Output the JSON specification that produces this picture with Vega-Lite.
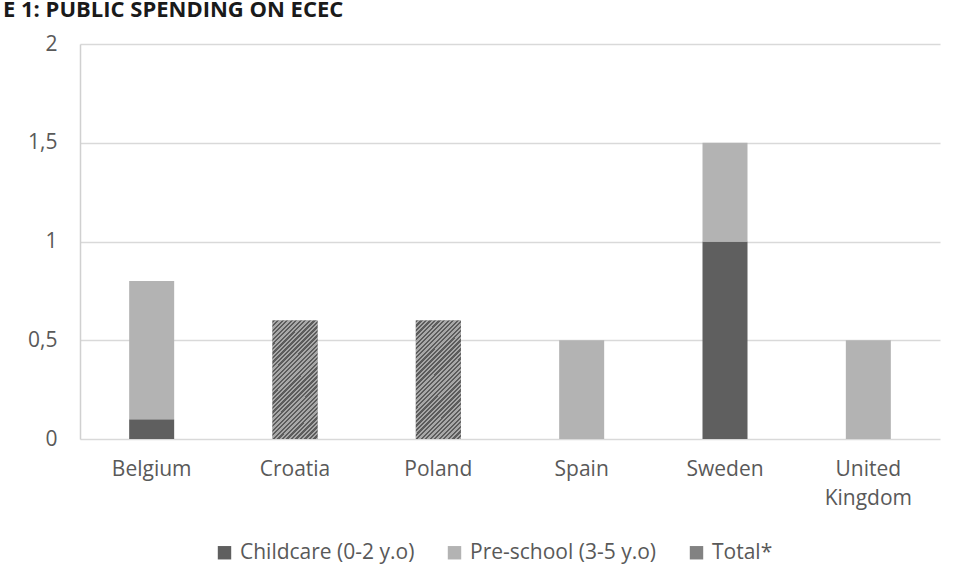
{
  "$schema": "https://vega.github.io/schema/vega-lite/v6.json",
  "width": 860,
  "height": 395,
  "autosize": {"type": "none"},
  "padding": {"left": 80, "top": 44, "right": 15, "bottom": 144},
  "background": "white",
  "title": {
    "text": "E 1: PUBLIC SPENDING ON ECEC",
    "anchor": "start",
    "frame": "group",
    "dx": -77,
    "dy": 6,
    "offset": 0,
    "baseline": "alphabetic",
    "font": "Open Sans",
    "fontSize": 22,
    "fontWeight": "bold",
    "color": "#1a1a1a"
  },
  "data": {
    "values": [
      {"country": "Belgium", "type": "Childcare (0-2 y.o)", "value": 0.1},
      {"country": "Belgium", "type": "Pre-school (3-5 y.o)", "value": 0.7},
      {"country": "Croatia", "type": "Total*", "value": 0.6},
      {"country": "Poland", "type": "Total*", "value": 0.6},
      {"country": "Spain", "type": "Pre-school (3-5 y.o)", "value": 0.5},
      {"country": "Sweden", "type": "Childcare (0-2 y.o)", "value": 1.0},
      {"country": "Sweden", "type": "Pre-school (3-5 y.o)", "value": 0.5},
      {"country": "United Kingdom", "type": "Pre-school (3-5 y.o)", "value": 0.5}
    ]
  },
  "encoding": {
    "x": {
      "field": "country",
      "type": "nominal",
      "sort": ["Belgium", "Croatia", "Poland", "Spain", "Sweden", "United Kingdom"],
      "scale": {"paddingInner": 0.686, "paddingOuter": 0.343},
      "axis": {
        "title": null,
        "labelAngle": 0,
        "ticks": false,
        "domain": false,
        "labelPadding": 19,
        "labelFont": "Open Sans",
        "labelFontSize": 21,
        "labelColor": "#595959",
        "labelLineHeight": 29,
        "labelExpr": "datum.label == 'United Kingdom' ? ['United', 'Kingdom'] : datum.label"
      }
    },
    "y": {
      "field": "value",
      "type": "quantitative",
      "stack": "zero",
      "scale": {"domain": [0, 2], "nice": false},
      "axis": {
        "title": null,
        "values": [0, 0.5, 1, 1.5, 2],
        "format": "~g",
        "ticks": false,
        "domain": true,
        "domainColor": "#d0d0d0",
        "domainWidth": 1.5,
        "grid": true,
        "gridColor": "#d9d9d9",
        "gridWidth": 1.5,
        "labelPadding": 23,
        "labelFont": "Open Sans",
        "labelFontSize": 21,
        "labelColor": "#595959",
        "labelExpr": "replace(datum.label, '.', ',')"
      }
    },
    "order": {"field": "type", "sort": "ascending"}
  },
  "layer": [
    {
      "mark": {"type": "bar"},
      "encoding": {
        "color": {
          "field": "type",
          "type": "nominal",
          "scale": {
            "domain": ["Childcare (0-2 y.o)", "Pre-school (3-5 y.o)", "Total*"],
            "range": ["#5f5f5f", "#b3b3b3", "#828282"]
          },
          "legend": {
            "title": null,
            "orient": "none",
            "direction": "horizontal",
            "legendX": 134,
            "legendY": 498,
            "symbolType": "square",
            "symbolSize": 180,
            "symbolStrokeWidth": 0,
            "symbolOpacity": 1,
            "labelFont": "Open Sans",
            "labelFontSize": 21,
            "labelColor": "#595959",
            "labelOffset": 5,
            "columnPadding": 29,
            "labelLimit": 300
          }
        }
      }
    },
    {
      "transform": [{"filter": "datum.type == 'Total*'"}],
      "mark": {
        "type": "bar",
        "color": {
          "gradient": "linear",
          "x1": 0, "y1": 0, "x2": 0.46, "y2": 1.206,
          "stops": [
            {"offset": 0, "color": "#5c5c5c"}, {"offset": 0.0139, "color": "#5c5c5c"}, {"offset": 0.0139, "color": "#a8a8a8"}, {"offset": 0.0278, "color": "#a8a8a8"},
            {"offset": 0.0278, "color": "#5c5c5c"}, {"offset": 0.0417, "color": "#5c5c5c"}, {"offset": 0.0417, "color": "#a8a8a8"}, {"offset": 0.0556, "color": "#a8a8a8"},
            {"offset": 0.0556, "color": "#5c5c5c"}, {"offset": 0.0694, "color": "#5c5c5c"}, {"offset": 0.0694, "color": "#a8a8a8"}, {"offset": 0.0833, "color": "#a8a8a8"},
            {"offset": 0.0833, "color": "#5c5c5c"}, {"offset": 0.0972, "color": "#5c5c5c"}, {"offset": 0.0972, "color": "#a8a8a8"}, {"offset": 0.1111, "color": "#a8a8a8"},
            {"offset": 0.1111, "color": "#5c5c5c"}, {"offset": 0.125, "color": "#5c5c5c"}, {"offset": 0.125, "color": "#a8a8a8"}, {"offset": 0.1389, "color": "#a8a8a8"},
            {"offset": 0.1389, "color": "#5c5c5c"}, {"offset": 0.1528, "color": "#5c5c5c"}, {"offset": 0.1528, "color": "#a8a8a8"}, {"offset": 0.1667, "color": "#a8a8a8"},
            {"offset": 0.1667, "color": "#5c5c5c"}, {"offset": 0.1806, "color": "#5c5c5c"}, {"offset": 0.1806, "color": "#a8a8a8"}, {"offset": 0.1944, "color": "#a8a8a8"},
            {"offset": 0.1944, "color": "#5c5c5c"}, {"offset": 0.2083, "color": "#5c5c5c"}, {"offset": 0.2083, "color": "#a8a8a8"}, {"offset": 0.2222, "color": "#a8a8a8"},
            {"offset": 0.2222, "color": "#5c5c5c"}, {"offset": 0.2361, "color": "#5c5c5c"}, {"offset": 0.2361, "color": "#a8a8a8"}, {"offset": 0.25, "color": "#a8a8a8"},
            {"offset": 0.25, "color": "#5c5c5c"}, {"offset": 0.2639, "color": "#5c5c5c"}, {"offset": 0.2639, "color": "#a8a8a8"}, {"offset": 0.2778, "color": "#a8a8a8"},
            {"offset": 0.2778, "color": "#5c5c5c"}, {"offset": 0.2917, "color": "#5c5c5c"}, {"offset": 0.2917, "color": "#a8a8a8"}, {"offset": 0.3056, "color": "#a8a8a8"},
            {"offset": 0.3056, "color": "#5c5c5c"}, {"offset": 0.3194, "color": "#5c5c5c"}, {"offset": 0.3194, "color": "#a8a8a8"}, {"offset": 0.3333, "color": "#a8a8a8"},
            {"offset": 0.3333, "color": "#5c5c5c"}, {"offset": 0.3472, "color": "#5c5c5c"}, {"offset": 0.3472, "color": "#a8a8a8"}, {"offset": 0.3611, "color": "#a8a8a8"},
            {"offset": 0.3611, "color": "#5c5c5c"}, {"offset": 0.375, "color": "#5c5c5c"}, {"offset": 0.375, "color": "#a8a8a8"}, {"offset": 0.3889, "color": "#a8a8a8"},
            {"offset": 0.3889, "color": "#5c5c5c"}, {"offset": 0.4028, "color": "#5c5c5c"}, {"offset": 0.4028, "color": "#a8a8a8"}, {"offset": 0.4167, "color": "#a8a8a8"},
            {"offset": 0.4167, "color": "#5c5c5c"}, {"offset": 0.4306, "color": "#5c5c5c"}, {"offset": 0.4306, "color": "#a8a8a8"}, {"offset": 0.4444, "color": "#a8a8a8"},
            {"offset": 0.4444, "color": "#5c5c5c"}, {"offset": 0.4583, "color": "#5c5c5c"}, {"offset": 0.4583, "color": "#a8a8a8"}, {"offset": 0.4722, "color": "#a8a8a8"},
            {"offset": 0.4722, "color": "#5c5c5c"}, {"offset": 0.4861, "color": "#5c5c5c"}, {"offset": 0.4861, "color": "#a8a8a8"}, {"offset": 0.5, "color": "#a8a8a8"},
            {"offset": 0.5, "color": "#5c5c5c"}, {"offset": 0.5139, "color": "#5c5c5c"}, {"offset": 0.5139, "color": "#a8a8a8"}, {"offset": 0.5278, "color": "#a8a8a8"},
            {"offset": 0.5278, "color": "#5c5c5c"}, {"offset": 0.5417, "color": "#5c5c5c"}, {"offset": 0.5417, "color": "#a8a8a8"}, {"offset": 0.5556, "color": "#a8a8a8"},
            {"offset": 0.5556, "color": "#5c5c5c"}, {"offset": 0.5694, "color": "#5c5c5c"}, {"offset": 0.5694, "color": "#a8a8a8"}, {"offset": 0.5833, "color": "#a8a8a8"},
            {"offset": 0.5833, "color": "#5c5c5c"}, {"offset": 0.5972, "color": "#5c5c5c"}, {"offset": 0.5972, "color": "#a8a8a8"}, {"offset": 0.6111, "color": "#a8a8a8"},
            {"offset": 0.6111, "color": "#5c5c5c"}, {"offset": 0.625, "color": "#5c5c5c"}, {"offset": 0.625, "color": "#a8a8a8"}, {"offset": 0.6389, "color": "#a8a8a8"},
            {"offset": 0.6389, "color": "#5c5c5c"}, {"offset": 0.6528, "color": "#5c5c5c"}, {"offset": 0.6528, "color": "#a8a8a8"}, {"offset": 0.6667, "color": "#a8a8a8"},
            {"offset": 0.6667, "color": "#5c5c5c"}, {"offset": 0.6806, "color": "#5c5c5c"}, {"offset": 0.6806, "color": "#a8a8a8"}, {"offset": 0.6944, "color": "#a8a8a8"},
            {"offset": 0.6944, "color": "#5c5c5c"}, {"offset": 0.7083, "color": "#5c5c5c"}, {"offset": 0.7083, "color": "#a8a8a8"}, {"offset": 0.7222, "color": "#a8a8a8"},
            {"offset": 0.7222, "color": "#5c5c5c"}, {"offset": 0.7361, "color": "#5c5c5c"}, {"offset": 0.7361, "color": "#a8a8a8"}, {"offset": 0.75, "color": "#a8a8a8"},
            {"offset": 0.75, "color": "#5c5c5c"}, {"offset": 0.7639, "color": "#5c5c5c"}, {"offset": 0.7639, "color": "#a8a8a8"}, {"offset": 0.7778, "color": "#a8a8a8"},
            {"offset": 0.7778, "color": "#5c5c5c"}, {"offset": 0.7917, "color": "#5c5c5c"}, {"offset": 0.7917, "color": "#a8a8a8"}, {"offset": 0.8056, "color": "#a8a8a8"},
            {"offset": 0.8056, "color": "#5c5c5c"}, {"offset": 0.8194, "color": "#5c5c5c"}, {"offset": 0.8194, "color": "#a8a8a8"}, {"offset": 0.8333, "color": "#a8a8a8"},
            {"offset": 0.8333, "color": "#5c5c5c"}, {"offset": 0.8472, "color": "#5c5c5c"}, {"offset": 0.8472, "color": "#a8a8a8"}, {"offset": 0.8611, "color": "#a8a8a8"},
            {"offset": 0.8611, "color": "#5c5c5c"}, {"offset": 0.875, "color": "#5c5c5c"}, {"offset": 0.875, "color": "#a8a8a8"}, {"offset": 0.8889, "color": "#a8a8a8"},
            {"offset": 0.8889, "color": "#5c5c5c"}, {"offset": 0.9028, "color": "#5c5c5c"}, {"offset": 0.9028, "color": "#a8a8a8"}, {"offset": 0.9167, "color": "#a8a8a8"},
            {"offset": 0.9167, "color": "#5c5c5c"}, {"offset": 0.9306, "color": "#5c5c5c"}, {"offset": 0.9306, "color": "#a8a8a8"}, {"offset": 0.9444, "color": "#a8a8a8"},
            {"offset": 0.9444, "color": "#5c5c5c"}, {"offset": 0.9583, "color": "#5c5c5c"}, {"offset": 0.9583, "color": "#a8a8a8"}, {"offset": 0.9722, "color": "#a8a8a8"},
            {"offset": 0.9722, "color": "#5c5c5c"}, {"offset": 0.9861, "color": "#5c5c5c"}, {"offset": 0.9861, "color": "#a8a8a8"}, {"offset": 1, "color": "#a8a8a8"}
          ]
        }
      }
    }
  ],
  "config": {
    "view": {"stroke": null}
  }
}
